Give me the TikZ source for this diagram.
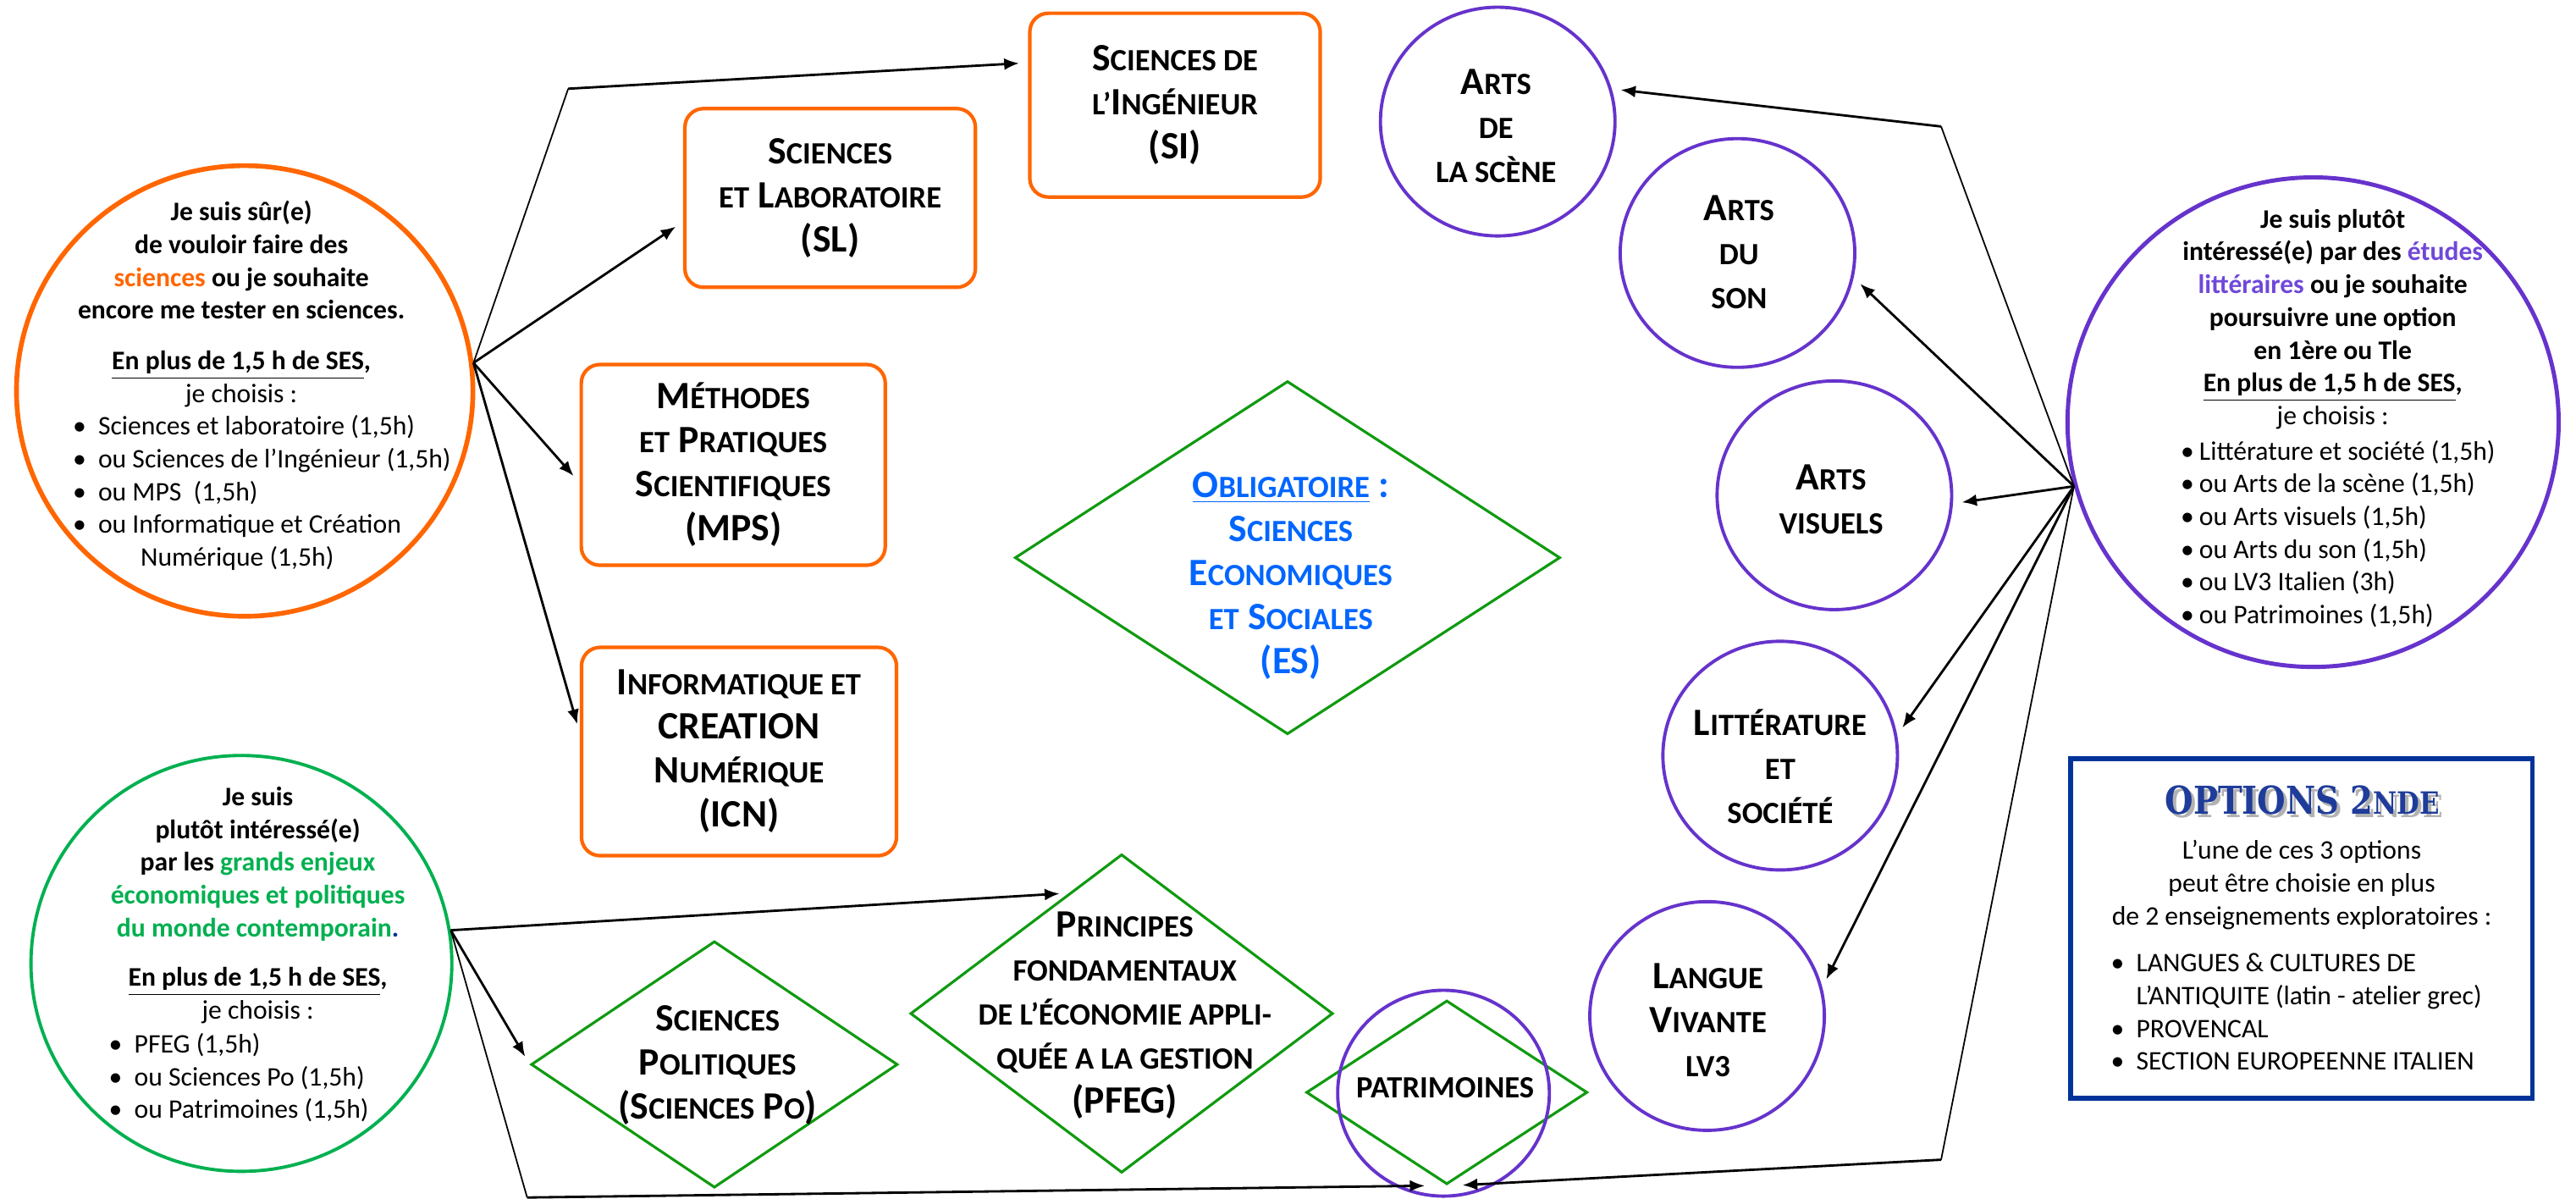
\documentclass[tikz,border=0pt]{standalone}
\usepackage{fontspec}
\usepackage{graphicx}
\setmainfont{Carlito}
\newfontfamily\stencilfont{DejaVu Serif}
\usetikzlibrary{shapes.geometric, arrows.meta, calc}

\definecolor{orng}{HTML}{FF6600}
\definecolor{grn}{HTML}{00B050}
\definecolor{dgrn}{HTML}{109A10}
\definecolor{prp}{HTML}{6633CC}
\definecolor{lprp}{HTML}{7048D8}
\definecolor{ablue}{HTML}{0066FF}
\definecolor{navy}{HTML}{003399}
\definecolor{titblue}{HTML}{1F3C9A}

\newcommand{\smc}[1]{{\fontsize{10.4}{14.8}\selectfont\MakeUppercase{#1}}}
\newcommand{\bul}[1][0.3cm]{\makebox[#1][l]{\textbullet}}
\newcommand{\optname}{\scalebox{0.85}[1]{OPTIONS 2{\fontsize{10.3}{12}\selectfont NDE}}}

\begin{document}
\begin{tikzpicture}[x=0.0194cm, y=-0.0194cm,
    title/.style={font=\bfseries\fontsize{13}{14.8}\selectfont, align=center, inner sep=0pt},
    body/.style={font=\fontsize{9}{11}\selectfont, align=center, inner sep=0pt},
    headb/.style={body, font=\bfseries\fontsize{9}{11}\selectfont},
    blist/.style={font=\fontsize{9}{11}\selectfont, align=left, inner sep=0pt, anchor=west},
    obox/.style={draw=orng, line width=1.2pt, rounded corners=0.22cm, title},
    gdiam/.style={draw=dgrn, line width=0.9pt, diamond, inner sep=0pt},
    pcirc/.style={draw=prp, line width=1.1pt, ellipse, inner sep=0pt, minimum width=2.77cm, minimum height=2.7cm},
    leg/.style={line width=0.5pt},
    arr/.style={line width=0.8pt, shorten >=3pt, -{Latex[length=5pt,width=4pt]}}]
    \useasboundingbox (0,0) rectangle (1568.6,729.9);

    \node [ellipse, draw=orng, line width=1.6pt, minimum width=5.39cm, minimum height=5.32cm] (sci) at (149,238) {};
    \node [headb] (scihead) at (147,185) {Je suis sûr(e)\\de vouloir faire des\\{\color{orng}sciences} ou je souhaite\\encore me tester en sciences.\\[6pt]\underline{En plus de 1,5 h de SES},\\\mdseries je choisis :};
    \node [blist] (scilist) at (44,300) {\bul Sciences et laboratoire (1,5h)\\\bul ou Sciences de l’Ingénieur (1,5h)\\\bul ou MPS~ (1,5h)\\\bul ou Informatique et Création\\\hspace*{0.8cm}Numérique (1,5h)};

    \node [ellipse, draw=grn, line width=1.1pt, minimum width=4.97cm, minimum height=4.91cm] (eco) at (147,586.5) {};
    \node [headb] (ecohead) at (157,551) {Je suis\\plutôt intéressé(e)\\par les {\color{grn}grands enjeux}\\{\color{grn}économiques et politiques}\\{\color{grn}du monde contemporain}{\color{navy}.}\\[5.5pt]\underline{En plus de 1,5 h de SES},\\\mdseries je choisis :};
    \node [blist] (ecolist) at (66,656) {\bul PFEG (1,5h)\\\bul ou Sciences Po (1,5h)\\\bul ou Patrimoines (1,5h)};

    \node [ellipse, draw=prp, line width=1.4pt, minimum width=5.8cm, minimum height=5.78cm] (lett) at (1408.5,257) {};
    \node [headb] (letthead) at (1420.5,194.3) {Je suis plutôt\\intéressé(e) par des {\color{lprp}études}\\{\color{lprp}littéraires} ou je souhaite\\poursuivre une option\\en 1ère ou Tle\\\underline{En plus de 1,5 h de SES},\\\mdseries je choisis :};
    \node [blist] (lettlist) at (1327.5,325) {\bul[0.22cm]Littérature et société (1,5h)\\\bul[0.22cm]ou Arts de la scène (1,5h)\\\bul[0.22cm]ou Arts visuels (1,5h)\\\bul[0.22cm]ou Arts du son (1,5h)\\\bul[0.22cm]ou LV3 Italien (3h)\\\bul[0.22cm]ou Patrimoines (1,5h)};

    \node [draw=navy, line width=1.6pt, minimum width=5.45cm, minimum height=4.01cm] (opt) at (1401.5,565.3) {};
    \node [text=gray!60, font=\stencilfont\bfseries\fontsize{12.9}{14}\selectfont, inner sep=0pt] (optsh) at (1404,489) {\optname};
    \node [text=titblue, font=\stencilfont\bfseries\fontsize{12.9}{14}\selectfont, inner sep=0pt] (optit) at (1402,487) {\optname};
    \node [body] (optbody) at (1401.6,538.7) {L’une de ces 3 options\\peut être choisie en plus\\de 2 enseignements exploratoires :};
    \node [blist] (optlist) at (1285,616) {\bul LANGUES \& CULTURES DE\\\hspace*{0.3cm}L’ANTIQUITE (latin - atelier grec)\\\bul PROVENCAL\\\bul SECTION EUROPEENNE ITALIEN};

    \node [obox, minimum width=3.43cm, minimum height=2.17cm] (si) at (715.5,64) {S\smc{ciences de}\\\smc{l’}I\smc{ngénieur}\\(SI)};
    \node [obox, minimum width=3.43cm, minimum height=2.11cm] (sl) at (505.5,120.5) {S\smc{ciences}\\\smc{et} L\smc{aboratoire}\\(SL)};
    \node [obox, minimum width=3.59cm, minimum height=2.37cm] (mps) at (446.5,283) {M\smc{éthodes}\\\smc{et} P\smc{ratiques}\\S\smc{cientifiques}\\(MPS)};
    \node [obox, minimum width=3.72cm, minimum height=2.46cm] (icn) at (450,457.5) {I\smc{nformatique et}\\CREATION\\N\smc{umérique}\\(ICN)};

    \node [gdiam, minimum width=6.44cm, minimum height=4.17cm] (ses) at (784,339.5) {};
    \node [title, text=ablue] (sest) at (786,350.5) {\underline{O\smc{bligatoire}} :\\S\smc{ciences}\\E\smc{conomiques}\\\smc{et} S\smc{ociales}\\(ES)};
    \node [gdiam, minimum width=4.33cm, minimum height=2.91cm] (po) at (435,648) {};
    \node [title] (pot) at (437,648.5) {S\smc{ciences}\\P\smc{olitiques}\\(S\smc{ciences} P\smc{o})};
    \node [gdiam, minimum width=4.99cm, minimum height=3.76cm] (pfeg) at (683,617) {};
    \node [title] (pfegt) at (685,618) {P\smc{rincipes}\\\smc{fondamentaux}\\\smc{de l’économie appli-}\\\smc{quée a la gestion}\\(PFEG)};
    \node [gdiam, minimum width=3.32cm, minimum height=2.17cm] (patd) at (881,665) {};
    \node [ellipse, draw=prp, line width=1.1pt, minimum width=2.5cm, minimum height=2.43cm] (pat) at (879,665.5) {};
    \node [title] (patt) at (880,662) {\smc{patrimoines}};

    \node [pcirc] (scene) at (912,74) {};
    \node [title] (scenet) at (911,76.5) {A\smc{rts}\\\smc{de}\\\smc{la scène}};
    \node [pcirc] (son) at (1058,154) {};
    \node [title] (sont) at (1059,153.7) {A\smc{rts}\\\smc{du}\\\smc{son}};
    \node [pcirc] (visu) at (1117,301.5) {};
    \node [title] (visut) at (1115,304) {A\smc{rts}\\\smc{visuels}};
    \node [pcirc] (litso) at (1084,460) {};
    \node [title] (litsot) at (1084,466.8) {L\smc{ittérature}\\\smc{et}\\\smc{société}};
    \node [pcirc] (lv) at (1039.5,618.5) {};
    \node [title] (lvt) at (1040,621) {L\smc{angue}\\V\smc{ivante}\\\smc{lv3}};

    \coordinate (csi) at (346,54);
    \coordinate (cpat) at (321,729);
    \coordinate (cscene) at (1182,77);
    \coordinate (cpat2) at (1182,706);

    \draw [leg] (sci.7) -- (csi);
    \draw [arr] (csi) -- ([yshift=0.5cm]si.west);
    \draw [arr] (sci.7) -- ([yshift=-0.28cm]sl.west);
    \draw [arr] (sci.7) -- ([yshift=-0.21cm]mps.west);
    \draw [arr] (sci.7) -- ([yshift=0.22cm]icn.west);

    \draw [arr] (eco.9) -- ($(pfeg.west)!0.75!(pfeg.north)$);
    \draw [arr] (eco.9) -- (po.west);
    \draw [leg] (eco.9) -- (cpat);
    \draw [arr] (cpat) -- ([xshift=-0.155cm]patd.south);

    \draw [leg] (lett.195) -- (cscene);
    \draw [arr] (cscene) -- (scene.16);
    \draw [arr] (lett.195) -- (son.348);
    \draw [arr] (lett.195) -- (visu.356);
    \draw [arr] (lett.195) -- (litso.10);
    \draw [arr] (lett.195) -- (lv.14);
    \draw [leg] (lett.195) -- (cpat2);
    \draw [arr] (cpat2) -- ([xshift=0.08cm]patd.south);
\end{tikzpicture}
\end{document}
